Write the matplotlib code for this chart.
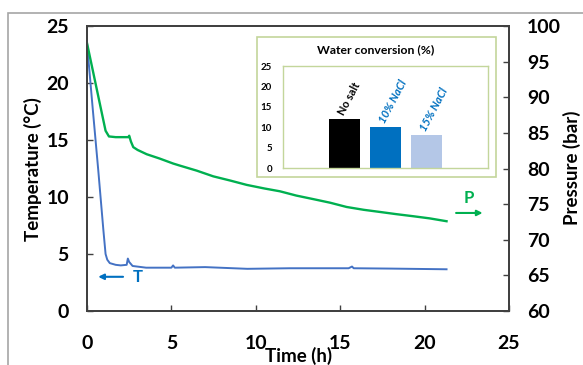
import matplotlib.pyplot as plt
from matplotlib.patches import Rectangle

plt.rcParams['font.family'] = ['Lato', 'DejaVu Sans']

# Temperature trace (h, degC)
time_T = [0, 0.33, 0.67, 0.97, 1.1, 1.2, 1.35, 1.7, 2.0, 2.35, 2.42, 2.5, 2.7, 3.5,
          5.0, 5.1, 5.2, 7.0, 9.5, 12.0, 15.5, 15.7, 15.8, 18.0, 21.3]
temperature = [23.5, 17.9, 12.3, 7.1, 5.0, 4.5, 4.2, 4.05, 4.0, 4.05, 4.6, 4.3, 3.95, 3.8,
               3.8, 4.0, 3.8, 3.85, 3.7, 3.75, 3.75, 3.9, 3.75, 3.72, 3.66]

# Pressure trace (h, bar)
time_P = [0, 1.1, 1.3, 1.7, 2.0, 2.45, 2.5, 2.6, 2.74, 3.0, 3.54, 4.3, 5.1, 5.51, 6.5,
          7.48, 8.5, 9.46, 10.5, 11.43, 12.4, 13.41, 14.4, 15.38, 16.4, 17.36, 18.3,
          19.33, 20.3, 21.3]
pressure = [97.6, 85.3, 84.5, 84.4, 84.4, 84.4, 84.6, 83.8, 83.0, 82.6, 82.0, 81.4,
            80.7, 80.4, 79.7, 78.9, 78.3, 77.7, 77.2, 76.8, 76.2, 75.7, 75.2, 74.6,
            74.2, 73.9, 73.6, 73.3, 73.0, 72.6]

# Inset: water conversion per salt content
salt_labels = ['No salt', '10% NaCl', '15% NaCl']
conversion = [12, 10, 8]
bar_colors = ['#000000', '#0070C0', '#B4C7E7']
label_colors = ['#000000', '#0070C0', '#0070C0']

blue = '#4472C4'
green = '#00B050'
spine_c = '#404040'

fig = plt.figure(figsize=(5.83, 3.65), dpi=100)
fig.patches.append(Rectangle((8 / 583, -0.1), 1.2, (365 - 13) / 365 + 0.1,
                             transform=fig.transFigure, fill=False,
                             edgecolor='#A6A6A6', linewidth=1.2))

ax = fig.add_axes([87 / 583, 54 / 365, 422 / 583, 285 / 365])
ax2 = ax.twinx()

ax.plot(time_T, temperature, color=blue, lw=1.4)
ax2.plot(time_P, pressure, color=green, lw=1.7)

ax.set_xlim(0, 25)
ax.set_ylim(0, 25)
ax2.set_ylim(60, 100)
ax.set_xticks(range(0, 26, 5))
ax.set_yticks(range(0, 26, 5))
ax2.set_yticks(range(60, 101, 5))

for a in (ax, ax2):
    for s in a.spines.values():
        s.set_color(spine_c)
        s.set_linewidth(1.3)
    a.tick_params(direction='in', length=4, width=1, color=spine_c, pad=13,
                  labelsize=14)
    for lab in a.get_xticklabels() + a.get_yticklabels():
        lab.set_fontweight('bold')
ax.tick_params(axis='x', pad=17)

ax.set_xlabel('Time (h)', fontsize=13.5, fontweight='bold', va='center')
ax.xaxis.set_label_coords((299 - 87) / 422, -(356 - 311) / 285)
ax.set_ylabel('Temperature (°C)', fontsize=13.5, fontweight='bold', va='center')
ax.yaxis.set_label_coords((33 - 87) / 422, (311 - 169) / 285)
ax2.set_ylabel('Pressure (bar)', fontsize=13.5, fontweight='bold', va='center',
               rotation=90)
ax2.yaxis.set_label_coords((572 - 87) / 422, (311 - 168) / 285)

# Series markers
ax.annotate('', xy=(0.5, 3.0), xytext=(2.3, 3.0),
            arrowprops=dict(arrowstyle='-|>', color='#0070C0', lw=1.5,
                            mutation_scale=8))
ax.text(2.7, 3.0, 'T', color='#0070C0', fontsize=12, fontweight='bold',
        va='center', ha='left')
ax.annotate('', xy=(23.6, 8.6), xytext=(21.7, 8.6),
            arrowprops=dict(arrowstyle='-|>', color=green, lw=1.5,
                            mutation_scale=8))
ax.text(22.6, 9.2, 'P', color=green, fontsize=12, fontweight='bold',
        va='bottom', ha='center')

# Inset frame
fig.patches.append(Rectangle((257 / 583, 188 / 365), 239 / 583, 140 / 365,
                             transform=fig.transFigure, facecolor='white',
                             edgecolor='#C3D69B', linewidth=1.2, zorder=5))
fig.text(376 / 583, 1 - 50 / 365, 'Water conversion (%)', fontsize=8.8,
         fontweight='bold', ha='center', va='center', zorder=6)

axi = fig.add_axes([283 / 583, 197 / 365, 205 / 583, 102 / 365], zorder=6)
axi.bar(range(len(conversion)), conversion, width=0.75, color=bar_colors)
axi.set_xlim(-1.5, 3.5)
axi.set_ylim(0, 25)
axi.set_yticks(range(0, 26, 5))
axi.set_xticks([])
axi.tick_params(axis='y', length=0, pad=8, labelsize=7)
for lab in axi.get_yticklabels():
    lab.set_fontweight('bold')
for s in axi.spines.values():
    s.set_color('#C3D69B')
    s.set_linewidth(1.0)
for i, (lab, val) in enumerate(zip(salt_labels, conversion)):
    axi.text(i - 0.08, val + 1.2, lab, rotation=62, color=label_colors[i],
             fontsize=8, fontweight='bold', style='italic' if i else 'normal',
             ha='left', va='center', rotation_mode='anchor')

fig.savefig('out.png', dpi=100)
